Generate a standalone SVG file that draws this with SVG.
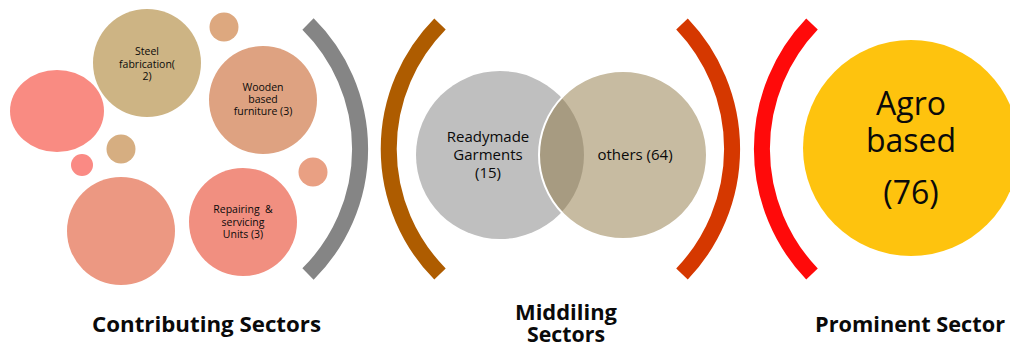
<svg xmlns="http://www.w3.org/2000/svg" width="1010" height="348" viewBox="0 0 1010 348">
<style>
text{font-family:"Open Sans","Noto Sans","DejaVu Sans",sans-serif;fill:#0a0a0a;text-anchor:middle}
.s{font-size:10.5px}
.m{font-size:15px}
.l{font-size:32px}
.h{font-size:21px;font-weight:bold;text-anchor:start}
.arc{fill:none;stroke-width:16;stroke-linecap:butt}
</style>
<rect width="1010" height="348" fill="#fff"/>
<g id="bubbles">
<ellipse cx="57" cy="111" rx="47" ry="41" fill="#F98B82"/>
<circle cx="224" cy="27" r="14.5" fill="#DDA87F"/>
<circle cx="121" cy="149" r="14.5" fill="#D6AE81"/>
<circle cx="82" cy="165" r="11" fill="#FA8A84"/>
<circle cx="313" cy="172" r="14.5" fill="#E9A083"/>
<circle cx="121" cy="231" r="54" fill="#EC9882"/>
</g>
<g id="steel">
<circle cx="147" cy="63" r="54" fill="#CDB484"/>
<text class="s" x="147" y="55">Steel</text>
<text class="s" x="147" y="67.5">fabrication(</text>
<text class="s" x="147" y="80">2)</text>
</g>
<g id="wooden">
<circle cx="263" cy="100" r="54" fill="#DEA281"/>
<text class="s" x="263" y="91">Wooden</text>
<text class="s" x="263" y="103">based</text>
<text class="s" x="263" y="115">furniture (3)</text>
</g>
<g id="repairing">
<circle cx="243" cy="222" r="54" fill="#F18F80"/>
<text class="s" x="243" y="213" xml:space="preserve">Repairing  &amp;</text>
<text class="s" x="243" y="226">servicing</text>
<text class="s" x="243" y="238">Units (3)</text>
</g>
<g id="readymade">
<circle cx="500" cy="155" r="84" fill="#BFBFBF"/>
</g>
<g id="others">
<circle cx="623" cy="155" r="84" fill="#8F7743" fill-opacity="0.5" stroke="#fff" stroke-width="2"/>
<text class="m" x="635" y="160">others (64)</text>
</g>
<g id="readymade-label">
<text class="m" x="488" y="142">Readymade</text>
<text class="m" x="488" y="160">Garments</text>
<text class="m" x="488" y="178">(15)</text>
</g>
<g id="agro">
<circle cx="911" cy="148" r="108" fill="#FEC30E"/>
<text class="l" x="911" y="115">Agro</text>
<text class="l" x="911" y="152">based</text>
<text class="l" x="911" y="204">(76)</text>
</g>
<g id="connectors">
<path class="arc" stroke="#858585" d="M308,24 A176,176 0 0 1 308,274"/>
<path class="arc" stroke="#AE5C00" d="M440,24 A178,178 0 0 0 440,274"/>
<path class="arc" stroke="#D53800" d="M682,24 A181,181 0 0 1 682,274"/>
<path class="arc" stroke="#FF0A0A" d="M812,24 A181,181 0 0 0 812,274"/>
</g>
<g id="labels">
<text class="h" x="92" y="332" textLength="229" lengthAdjust="spacingAndGlyphs">Contributing Sectors</text>
<text class="h" x="515" y="320" textLength="102" lengthAdjust="spacingAndGlyphs">Middiling</text>
<text class="h" x="527" y="342" textLength="78" lengthAdjust="spacingAndGlyphs">Sectors</text>
<text class="h" x="815" y="332" textLength="190" lengthAdjust="spacingAndGlyphs">Prominent Sector</text>
</g>
</svg>
